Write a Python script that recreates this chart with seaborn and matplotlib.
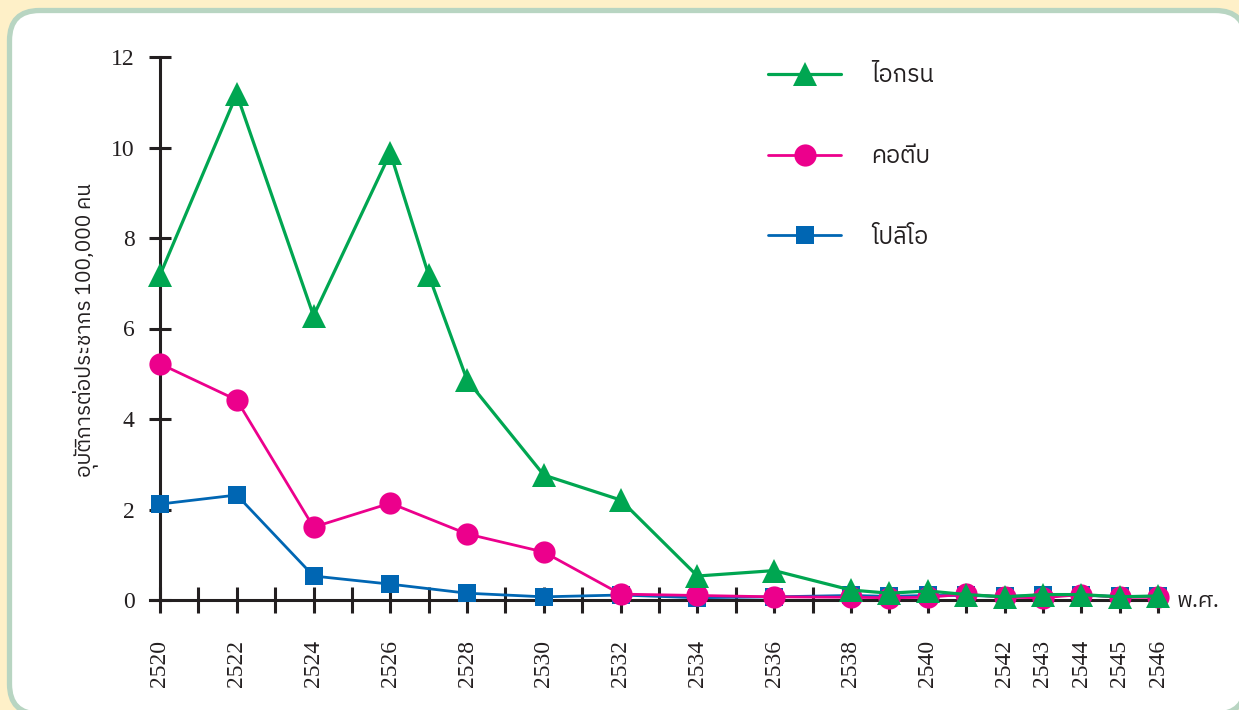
import matplotlib
matplotlib.use("Agg")
import matplotlib.pyplot as plt
import seaborn as sns
from matplotlib import font_manager
from matplotlib.patches import FancyBboxPatch
from matplotlib.transforms import IdentityTransform

# ---------------- data ----------------
years_pertussis = [2520, 2522, 2524, 2526, 2527, 2528, 2530, 2532, 2534, 2536,
                   2538, 2539, 2540, 2541, 2542, 2543, 2544, 2545, 2546]
rate_pertussis = [7.18, 11.18, 6.28, 9.88, 7.18, 4.86, 2.76, 2.21, 0.53, 0.65,
                  0.22, 0.15, 0.20, 0.12, 0.07, 0.12, 0.12, 0.07, 0.09]

years_diphtheria = [2520, 2522, 2524, 2526, 2528, 2530, 2532, 2534, 2536,
                    2538, 2539, 2540, 2541, 2542, 2543, 2544, 2545, 2546]
rate_diphtheria = [5.22, 4.42, 1.61, 2.14, 1.46, 1.06, 0.13, 0.10, 0.07,
                   0.06, 0.05, 0.06, 0.13, 0.06, 0.05, 0.12, 0.06, 0.06]

years_polio = [2520, 2522, 2524, 2526, 2528, 2530, 2532, 2534, 2536,
               2538, 2539, 2540, 2541, 2542, 2543, 2544, 2545, 2546]
rate_polio = [2.12, 2.32, 0.53, 0.35, 0.15, 0.07, 0.11, 0.05, 0.07,
              0.10, 0.08, 0.10, 0.10, 0.08, 0.10, 0.10, 0.08, 0.08]

series_names = ["ไอกรน", "คอตีบ", "โปลิโอ"]
xtick_years = list(range(2520, 2547))
xtick_labels = ["2520", "", "2522", "", "2524", "", "2526", "", "2528", "",
                "2530", "", "2532", "", "2534", "", "2536", "", "2538", "",
                "2540", "", "2542", "2543", "2544", "2545", "2546"]
ytick_values = [0, 2, 4, 6, 8, 10, 12]
y_label = "อุบัติการต่อประชากร 100,000 คน"
x_unit = "พ.ศ."

# ---------------- fonts ----------------
def find_thai_fonts():
    names = []
    try:
        from fontTools.ttLib import TTFont
    except Exception:
        return names
    for f in font_manager.fontManager.ttflist:
        try:
            tt = TTFont(f.fname, fontNumber=0, lazy=True)
            cmap = tt.getBestCmap()
            if cmap and 0x0E44 in cmap and 0x0E01 in cmap and 0x0E1A in cmap:
                if f.name not in names:
                    names.append(f.name)
        except Exception:
            pass
    return names

sns.set_theme(style="white")
thai_fonts = find_thai_fonts()
pref = [n for n in thai_fonts if "Sans" in n and "Mono" not in n] + thai_fonts
thai = pref[0] if pref else "DejaVu Sans"
plt.rcParams["font.family"] = [thai, "DejaVu Sans"]
serif = "Liberation Serif"

INK = "#231F20"
C_GREEN = "#00A651"
C_PINK = "#EC008C"
C_BLUE = "#0066B3"

W, H = 1239, 710
fig = plt.figure(figsize=(W / 100, H / 100), dpi=100, facecolor="#FEF0C8")

panel = FancyBboxPatch((9.5, -4), 1236, 703.5,
                       boxstyle="round,pad=0,rounding_size=30",
                       transform=IdentityTransform(),
                       facecolor="white", edgecolor="#B8D5C2", linewidth=3.8,
                       zorder=-10)
fig.patches.append(panel)

ax = fig.add_axes([150 / W, 110 / H, 1010 / W, 543 / H])
ax.set_zorder(5)
ax.patch.set_alpha(0)

# draw in order blue, pink, green (green on top)
sns.lineplot(x=years_polio, y=rate_polio, ax=ax, color=C_BLUE, lw=2.0,
             marker="s", markersize=13.5, markeredgewidth=0, clip_on=False,
             label=series_names[2], zorder=3)
sns.lineplot(x=years_diphtheria, y=rate_diphtheria, ax=ax, color=C_PINK, lw=2.0,
             marker="o", markersize=16, markeredgewidth=0, clip_on=False,
             label=series_names[1], zorder=4)
sns.lineplot(x=years_pertussis, y=rate_pertussis, ax=ax, color=C_GREEN, lw=2.3,
             marker="^", markersize=17, markeredgewidth=0, clip_on=False,
             label=series_names[0], zorder=5)

ax.set_xlim(2519.74, 2546.05)
ax.set_ylim(0, 12)

for s in ["top", "right"]:
    ax.spines[s].set_visible(False)
ax.spines["left"].set_position(("data", 2520))
ax.spines["bottom"].set_position(("data", 0))
for s in ["left", "bottom"]:
    ax.spines[s].set_color(INK)
    ax.spines[s].set_linewidth(2.2)
    ax.spines[s].set_zorder(2)

ax.set_xticks(xtick_years)
ax.set_xticklabels(xtick_labels, rotation=90, fontfamily=serif, fontsize=17, color=INK)
ax.set_yticks(ytick_values)
ax.set_yticklabels([str(v) for v in ytick_values], fontfamily=serif, fontsize=17, color=INK)
ax.tick_params(axis="x", bottom=True, top=False, direction="inout", length=19,
               width=2.2, color=INK, pad=19)
ax.tick_params(axis="y", left=True, right=False, direction="inout", length=16.5,
               width=2.2, color=INK, pad=10)
for tl in ax.get_xticklines() + ax.get_yticklines():
    tl.set_zorder(2)
ax.set_xlabel("")
ax.set_ylabel("")
ax.grid(False)

handles, labels = ax.get_legend_handles_labels()
order = [labels.index(n) for n in series_names]
leg = ax.legend([handles[i] for i in order], [labels[i] for i in order],
                loc="upper left", bbox_to_anchor=(768 / W, 1 - 64 / H),
                bbox_transform=fig.transFigure, frameon=False,
                fontsize=17, handlelength=3.1, handletextpad=1.25,
                labelspacing=2.45, borderpad=0, borderaxespad=0)
for t in leg.get_texts():
    t.set_color(INK)

fig.text(85 / W, 1 - 330 / H, y_label, rotation=90, ha="center", va="center",
         fontsize=15, color=INK)
fig.text(1177 / W, 1 - 601 / H, x_unit, ha="left", va="center",
         fontsize=16, color=INK)

fig.savefig("out.png", dpi=100, facecolor=fig.get_facecolor())
